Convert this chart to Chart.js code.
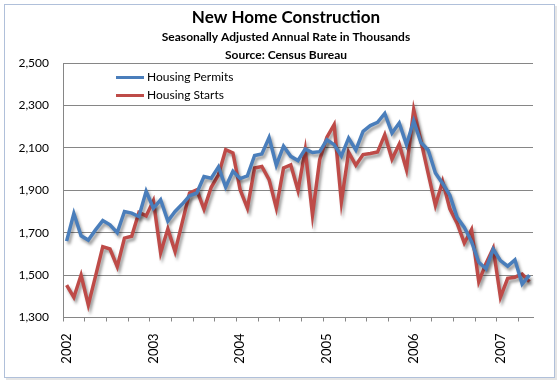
<!DOCTYPE html>
<html><head><meta charset="utf-8">
<style>html,body{margin:0;padding:0;background:#fff;}#wrap{width:560px;height:380px;position:relative;}canvas{display:block;}</style>
<script src="https://cdn.jsdelivr.net/npm/chart.js@4.4.0/dist/chart.umd.min.js"></script>
</head><body><div id="wrap"><canvas id="c" width="560" height="380"></canvas></div>
<script>
// ---- data ----
const years = ['2002','2003','2004','2005','2006','2007'];
const monthNames = ['Jan','Feb','Mar','Apr','May','Jun','Jul','Aug','Sep','Oct','Nov','Dec'];
const categories = [];
years.forEach(y => monthNames.forEach(m => categories.push(m + ' ' + y)));
categories.length = 65; // Jan 2002 .. May 2007
const yearLabels = years;

const permits = [
 1660,1790,1685,1665,1713,1757,1737,1700,1800,1792,1776,1895,
 1815,1855,1755,1800,1835,1874,1887,1965,1957,2010,1915,1989,
 1955,1968,2064,2071,2148,2018,2108,2060,2040,2094,2078,2082,
 2138,2115,2062,2146,2090,2178,2205,2220,2262,2170,2217,2115,
 2228,2125,2090,1981,1932,1877,1772,1725,1658,1560,1530,1622,
 1568,1542,1572,1458,1500
];
const starts = [
 1453,1395,1500,1359,1495,1634,1623,1540,1674,1683,1795,1779,
 1850,1605,1718,1611,1750,1887,1902,1811,1914,1973,2091,2076,
 1902,1816,2005,2012,1950,1816,2005,2020,1899,2091,1784,2044,
 2150,2209,1845,2080,2018,2068,2073,2080,2162,2047,2117,1997,
 2280,2133,1979,1829,1942,1812,1745,1651,1715,1469,1555,1627,
 1396,1485,1490,1505,1469
];
const seriesNames = ['Housing Permits','Housing Starts'];
const seriesColors = ['#4A7EBB','#BE4B48'];
const titleText = 'New Home Construction';
const subtitleLines = ['Seasonally Adjusted Annual Rate in Thousands','Source: Census Bureau'];

const FONT = 'Lato, "Open Sans", sans-serif';

const framePlugin = {
  id:'frame',
  beforeDraw(chart){
    const c = chart.ctx;
    c.save();
    c.fillStyle = '#fff';
    c.fillRect(0,0,chart.width,chart.height);
    c.fillStyle = 'rgba(0,0,0,0.10)';
    c.fillRect(6,6,551,375);
    c.fillStyle = '#fff';
    c.fillRect(4,4,550,374);
    c.strokeStyle = '#B0C0DA';
    c.lineWidth = 1;
    c.strokeRect(4.5,4.5,550,373);
    c.restore();
  },
  afterDraw(chart){
    const c = chart.ctx;
    c.save();
    c.fillStyle = '#000';
    c.textAlign = 'center';
    c.textBaseline = 'middle';
    c.font = 'bold 17px ' + FONT;
    c.fillText(titleText, 286, 18);
    c.font = 'bold 12px ' + FONT;
    c.fillText(subtitleLines[0], 286, 37);
    c.fillText(subtitleLines[1], 286, 55);
    c.textAlign = 'left';
    c.font = '12px ' + FONT;
    const ly = [77.5, 95.5];
    for (let i=0;i<2;i++){
      c.strokeStyle = seriesColors[i];
      c.lineWidth = 3;
      c.beginPath(); c.moveTo(116,ly[i]); c.lineTo(144,ly[i]); c.stroke();
      c.fillStyle = '#000';
      c.fillText(seriesNames[i], 147, ly[i]);
    }
    c.restore();
  }
};
const shadowPlugin = {
  id:'lineShadow',
  beforeDatasetsDraw(chart){ const c=chart.ctx; c.save(); c.shadowColor='rgba(0,0,0,0.38)'; c.shadowBlur=3; c.shadowOffsetX=2; c.shadowOffsetY=3; },
  afterDatasetsDraw(chart){ chart.ctx.restore(); }
};

new Chart(document.getElementById('c').getContext('2d'), {
  type:'line',
  data:{
    labels:categories,
    datasets:[
      {label:seriesNames[0], data:permits, borderColor:seriesColors[0], borderWidth:3.5, pointRadius:0, tension:0, fill:false},
      {label:seriesNames[1], data:starts, borderColor:seriesColors[1], borderWidth:3.5, pointRadius:0, tension:0, fill:false}
    ]
  },
  options:{
    responsive:false, animation:false, devicePixelRatio:1,
    layout:{padding:{top:63, right:27, left:0, bottom:0}},
    plugins:{legend:{display:false}, title:{display:false}, tooltip:{enabled:false}},
    scales:{
      x:{
        type:'category', offset:true,
        grid:{offset:true, drawOnChartArea:false, drawTicks:true, tickLength:4, lineWidth:1,
              color:(ctx)=> (ctx.index!==undefined && ctx.index%3===0) ? '#868686' : 'rgba(0,0,0,0)'},
        border:{display:true, color:'#868686', width:1},
        ticks:{autoSkip:false, maxRotation:90, minRotation:90, padding:12, color:'#000',
               font:{family:FONT, size:13},
               callback:(v,i)=> (i%12===0) ? yearLabels[i/12] : ''},
        afterFit:(s)=>{ s.height = 62.5; }
      },
      y:{
        min:1300, max:2500,
        ticks:{stepSize:200, padding:14, color:'#000', font:{family:FONT, size:12},
               callback:(v)=> Number(v).toLocaleString('en-US')},
        grid:{color:'#868686', drawTicks:false, lineWidth:1},
        border:{display:true, color:'#868686', width:1},
        afterFit:(s)=>{ s.width = 63; }
      }
    }
  },
  plugins:[framePlugin, shadowPlugin]
});
</script></body></html>
